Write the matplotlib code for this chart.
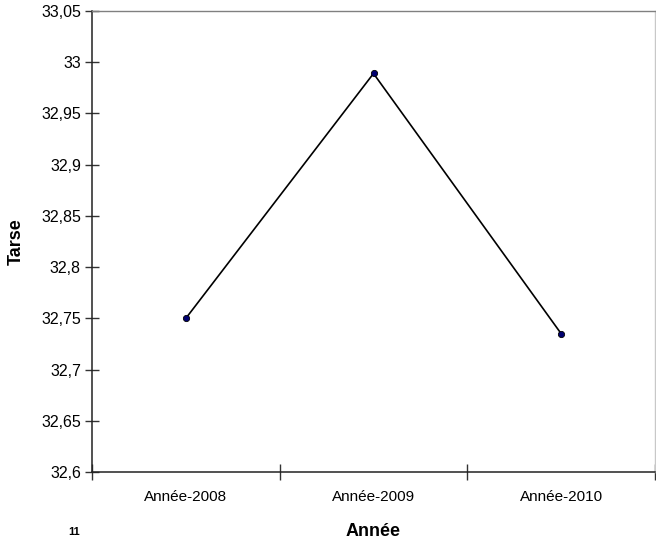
import matplotlib
matplotlib.use("Agg")
import matplotlib.pyplot as plt
import numpy as np

categories = ["Année-2008", "Année-2009", "Année-2010"]
values = [32.750, 32.989, 32.735]
yticks = [32.6, 32.65, 32.7, 32.75, 32.8, 32.85, 32.9, 32.95, 33.0, 33.05]

plt.rcParams['font.family'] = ['Liberation Sans', 'DejaVu Sans']

fig = plt.figure(figsize=(6.56, 5.42), dpi=100)
ax = fig.add_axes([92/656, 70/542, 563/656, 461/542])

x = np.arange(len(categories))
ax.plot(x, values, color='black', lw=1.2, marker='o', markersize=4.5,
        markerfacecolor='#000070', markeredgecolor='black', markeredgewidth=0.6, zorder=3)

ax.set_xlim(-0.5, len(categories) - 0.5)
ax.set_ylim(yticks[0], yticks[-1])
ax.set_yticks(yticks)
ax.set_yticklabels([f"{round(v, 2):g}".replace('.', ',') for v in yticks])
ax.set_xticks(x)
ax.set_xticklabels(categories)
ax.set_xticks(np.arange(len(categories) + 1) - 0.5, minor=True)

ax.tick_params(axis='y', direction='inout', length=10, width=1, color='#333333',
               labelsize=11.5, pad=3)
ax.tick_params(axis='x', which='major', length=0, labelsize=11, pad=13)
ax.tick_params(axis='x', which='minor', direction='inout', length=11, width=1, color='#333333')

for s in ['left', 'bottom']:
    ax.spines[s].set_color('#222222')
    ax.spines[s].set_linewidth(1.1)
ax.spines['top'].set_color('#808080')
ax.spines['top'].set_linewidth(1.0)
ax.spines['right'].set_color('#c8c8c8')
ax.spines['right'].set_linewidth(1.0)

ax.set_xlabel("Année", fontsize=13, fontweight='bold', labelpad=14)
ax.set_ylabel("Tarse", fontsize=13, fontweight='bold', labelpad=12)

fig.text(68/656, 5/542, "11", fontsize=8, fontweight='bold', va='bottom', ha='left')

fig.savefig("out.png", dpi=100)
